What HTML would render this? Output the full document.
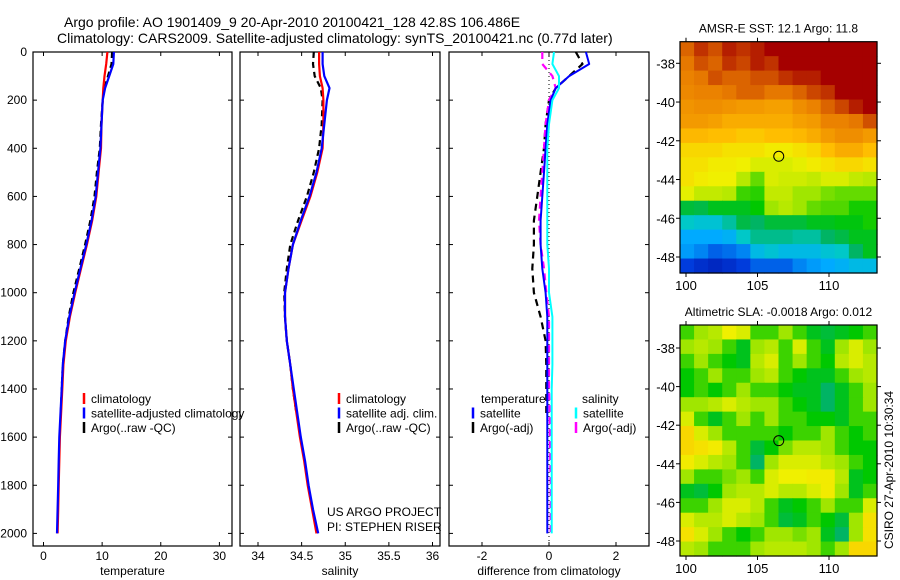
<!DOCTYPE html>
<html><head><meta charset="utf-8"><style>
body{margin:0;background:#fff}
svg{display:block;font-family:"Liberation Sans",sans-serif}
</style></head><body>
<svg id="fig" width="900" height="580" viewBox="0 0 900 580" xmlns="http://www.w3.org/2000/svg">
<rect width="900" height="580" fill="#fff"/>
<text x="64" y="27" font-size="14">Argo profile: AO 1901409_9 20-Apr-2010 20100421_128 42.8S 106.486E</text>
<text x="57" y="43" font-size="14">Climatology: CARS2009. Satellite-adjusted climatology: synTS_20100421.nc (0.77d later)</text>
<g id="plots"></g>
</svg>
<script>
// ---- data ----
const depths = [0,50,100,150,200,300,400,500,600,700,800,900,1000,1100,1200,1300,1400,1500,1600,1700,1800,1900,2000];
const tempClim = [10.9,10.7,10.4,10.2,10.1,9.9,9.8,9.4,9.0,8.3,7.4,6.4,5.4,4.5,3.8,3.4,3.2,3.0,2.8,2.7,2.6,2.5,2.4];
const tempSat  = [12.0,11.9,11.2,10.5,10.1,9.9,9.7,9.3,8.9,8.2,7.3,6.3,5.3,4.4,3.7,3.3,3.1,2.9,2.7,2.6,2.5,2.4,2.3];
const tempArgo = [11.7,11.6,11.0,10.4,10.1,9.8,9.6,9.1,8.7,8.0,7.1,6.1,5.1,4.3,3.7,3.3,3.1,2.95];
const salClim = [34.70,34.70,34.71,34.74,34.75,34.75,34.74,34.68,34.60,34.50,34.40,34.35,34.31,34.31,34.33,34.37,34.40,34.44,34.48,34.53,34.57,34.62,34.67];
const salSat  = [34.74,34.74,34.76,34.82,34.79,34.76,34.73,34.67,34.59,34.49,34.40,34.35,34.31,34.31,34.33,34.37,34.41,34.45,34.49,34.54,34.58,34.63,34.69];
const salArgo = [34.64,34.63,34.65,34.72,34.74,34.73,34.70,34.64,34.56,34.46,34.37,34.33,34.30,34.31,34.33,34.37,34.40,34.44];
const dTempSat  = [1.1,1.2,0.6,0.2,0.05,-0.05,-0.1,-0.15,-0.2,-0.25,-0.25,-0.2,-0.1,-0.05,-0.05,-0.05,-0.05,-0.05,-0.05,-0.05,-0.05,-0.05,-0.05];
const dTempArgo = [0.8,1.0,0.6,0.2,0.0,-0.1,-0.15,-0.25,-0.35,-0.45,-0.45,-0.5,-0.45,-0.25,-0.1,-0.08,-0.08,-0.08];
const dSalSat   = [0.15,0.1,0.3,0.3,0.1,0.0,-0.05,-0.05,-0.05,-0.05,-0.05,0.0,0.0,0.1,0.1,0.1,0.08,0.08,0.08,0.08,0.08,0.08,0.08];
const dSalArgo  = [-0.2,-0.2,0.1,0.2,0.0,-0.1,-0.15,-0.2,-0.25,-0.3,-0.25,-0.15,-0.08,0.0,0.0,0.0,0.0,0.02,0.03,0.04,0.05,0.05,0.05];
const depthTicks = [0,200,400,600,800,1000,1200,1400,1600,1800,2000];
const tempTicks = [0,10,20,30];
const salTicks = [34,34.5,35,35.5,36];
const diffTicks = [-2,0,2];
const lonTicks = [100,105,110];
const latTicks = [-38,-40,-42,-44,-46,-48];
const sstGrid = [
[0.9,0.95,0.92,0.97,0.95,0.97,1,1,1,1,1,1,1,1],
[0.88,0.92,0.9,0.95,0.93,0.97,0.95,1,1,1,1,1,1,1],
[0.87,0.88,0.92,0.9,0.9,0.92,0.92,0.95,0.97,0.97,1,1,1,1],
[0.86,0.87,0.87,0.88,0.9,0.9,0.88,0.88,0.9,0.93,0.95,1,1,1],
[0.84,0.85,0.85,0.84,0.83,0.83,0.82,0.82,0.85,0.87,0.9,0.93,0.97,1],
[0.83,0.83,0.82,0.8,0.8,0.8,0.8,0.8,0.82,0.83,0.87,0.87,0.88,0.92],
[0.78,0.78,0.77,0.77,0.75,0.75,0.77,0.77,0.78,0.8,0.83,0.85,0.85,0.83],
[0.72,0.72,0.72,0.7,0.7,0.7,0.68,0.68,0.7,0.72,0.77,0.8,0.8,0.77],
[0.7,0.7,0.68,0.68,0.67,0.65,0.65,0.65,0.66,0.68,0.7,0.72,0.72,0.7],
[0.7,0.68,0.67,0.67,0.62,0.57,0.65,0.64,0.64,0.63,0.65,0.65,0.63,0.62],
[0.66,0.63,0.63,0.62,0.55,0.54,0.63,0.63,0.6,0.6,0.58,0.57,0.57,0.57],
[0.48,0.47,0.5,0.5,0.5,0.52,0.6,0.62,0.6,0.57,0.56,0.56,0.53,0.53],
[0.4,0.38,0.38,0.42,0.47,0.45,0.48,0.48,0.48,0.5,0.5,0.51,0.51,0.53],
[0.3,0.3,0.3,0.32,0.4,0.43,0.43,0.43,0.42,0.42,0.45,0.47,0.5,0.5],
[0.28,0.25,0.2,0.22,0.25,0.35,0.38,0.35,0.35,0.35,0.38,0.4,0.45,0.5],
[0.15,0.12,0.1,0.12,0.15,0.2,0.2,0.2,0.25,0.28,0.3,0.32,0.35,0.35]];
const slaGrid = [
[0.55,0.6,0.62,0.67,0.65,0.55,0.55,0.6,0.55,0.5,0.48,0.5,0.52,0.55],
[0.6,0.62,0.6,0.55,0.5,0.6,0.62,0.55,0.65,0.55,0.5,0.6,0.65,0.6],
[0.55,0.6,0.55,0.52,0.5,0.62,0.65,0.55,0.6,0.55,0.52,0.62,0.65,0.62],
[0.52,0.55,0.6,0.55,0.55,0.6,0.62,0.55,0.52,0.5,0.5,0.55,0.6,0.62],
[0.52,0.55,0.52,0.55,0.6,0.55,0.55,0.52,0.5,0.5,0.45,0.5,0.55,0.6],
[0.6,0.6,0.62,0.65,0.62,0.6,0.6,0.55,0.52,0.5,0.45,0.5,0.55,0.6],
[0.65,0.55,0.5,0.55,0.6,0.55,0.6,0.55,0.55,0.52,0.52,0.5,0.55,0.55],
[0.72,0.65,0.6,0.55,0.55,0.55,0.55,0.52,0.55,0.55,0.6,0.55,0.52,0.55],
[0.72,0.7,0.68,0.62,0.55,0.48,0.52,0.58,0.62,0.62,0.6,0.55,0.52,0.52],
[0.68,0.65,0.62,0.6,0.55,0.45,0.6,0.65,0.65,0.65,0.62,0.6,0.55,0.52],
[0.6,0.55,0.55,0.58,0.6,0.55,0.65,0.67,0.67,0.68,0.68,0.62,0.5,0.52],
[0.5,0.48,0.52,0.6,0.62,0.62,0.65,0.62,0.62,0.65,0.68,0.6,0.5,0.55],
[0.55,0.55,0.6,0.65,0.65,0.62,0.55,0.5,0.52,0.55,0.6,0.55,0.55,0.65],
[0.65,0.62,0.62,0.65,0.62,0.6,0.55,0.48,0.5,0.55,0.52,0.48,0.6,0.7],
[0.7,0.65,0.6,0.55,0.52,0.55,0.6,0.6,0.58,0.6,0.5,0.45,0.6,0.7],
[0.62,0.6,0.55,0.55,0.55,0.6,0.62,0.62,0.62,0.6,0.55,0.6,0.72,0.72]];
const argoLon = 106.486, argoLat = -42.8;

// ---- drawing ----
const NS = "http://www.w3.org/2000/svg";
const root = document.getElementById('plots');
function mk(tag, attrs, parent){const e=document.createElementNS(NS,tag);for(const k in attrs)e.setAttribute(k,attrs[k]);(parent||root).appendChild(e);return e;}
const y0=52, yPx=(533.4-52)/2000;
const yD = d => y0 + d*yPx;
const TOP=52, BOT=546;

function panel(name, xl, xr, v0, px0, v1, px1, ticks, label, showY){
  const sx = v => px0 + (v-v0)*(px1-px0)/(v1-v0);
  const g = mk('g',{});
  
  
  const box = mk('rect',{x:xl,y:TOP,width:xr-xl,height:BOT-TOP,fill:'none',stroke:'#000','stroke-width':1.2},g);
  
  
  ticks.forEach(t=>{
    const x=sx(t);
    mk('line',{x1:x,y1:TOP,x2:x,y2:TOP+4,stroke:'#000'},g);
    mk('line',{x1:x,y1:BOT,x2:x,y2:BOT-4,stroke:'#000'},g);
    const tl = mk('text',{x:x,y:BOT+14,'font-size':12,'text-anchor':'middle'},g);
    tl.textContent = t;
    
    
  });
  depthTicks.forEach(d=>{
    const y=yD(d);
    mk('line',{x1:xl,y1:y,x2:xl+4,y2:y,stroke:'#000'},g);
    mk('line',{x1:xr,y1:y,x2:xr-4,y2:y,stroke:'#000'},g);
    if(showY){
      const tl = mk('text',{x:27,y:y+4,'font-size':12,'text-anchor':'end'},g);
      tl.textContent = d;
      
      
    }
  });
  const xl2 = mk('text',{x:(xl+xr)/2,y:575,'font-size':12,'text-anchor':'middle'},g);
  xl2.textContent = label;
  
  
  return {g, sx};
}
function series(p, vals, color, dash, w, name){
  const pts = vals.map((v,i)=>p.sx(v).toFixed(1)+','+yD(depths[i]).toFixed(1)).join(' ');
  const a = {points:pts,fill:'none',stroke:color,'stroke-width':w,'stroke-linejoin':'round'};
  if(dash) a['stroke-dasharray']=dash;
  const l = mk('polyline',a,p.g);
  
  
}
function legend(g, x, y, items){
  items.forEach((it,i)=>{
    const yy = y + i*14.5;
    mk('line',{x1:x,y1:yy-10,x2:x,y2:yy+1,stroke:it[1],'stroke-width':2.5},g);
    const t = mk('text',{x:x+7,y:yy,'font-size':12},g);
    t.textContent = it[0];
    
    
  });
}

const p1 = panel('temperature-panel',33,232,0,43.5,30,219.4,tempTicks,'temperature',true);
series(p1,tempArgo,'#000','6,4',2.2,'argo-temperature-line');
series(p1,tempClim,'#f00',null,2.2,'climatology-temperature-line');
series(p1,tempSat,'#00f',null,2.2,'satellite-temperature-line');
legend(p1.g,84,403,[['climatology','#f00'],['satellite-adjusted climatology','#00f'],['Argo(..raw -QC)','#000']]);

const p2 = panel('salinity-panel',240,440,34,258,36,432.5,salTicks,'salinity',false);
series(p2,salArgo,'#000','6,4',2.2,'argo-salinity-line');
series(p2,salClim,'#f00',null,2.2,'climatology-salinity-line');
series(p2,salSat,'#00f',null,2.2,'satellite-salinity-line');
legend(p2.g,339,403,[['climatology','#f00'],['satellite adj. clim.','#00f'],['Argo(..raw -QC)','#000']]);
const c1=mk('text',{x:327,y:516,'font-size':12},p2.g); c1.textContent='US ARGO PROJECT';


const c2=mk('text',{x:327,y:531,'font-size':12},p2.g); c2.textContent='PI: STEPHEN RISER';



const p3 = panel('difference-panel',449,649,-2,482,2,616,diffTicks,'difference from climatology',false);
mk('line',{x1:p3.sx(0),y1:TOP,x2:p3.sx(0),y2:BOT,stroke:'#000','stroke-dasharray':'1,3'},p3.g);
series(p3,dTempArgo,'#000','7,5',2.2,'argo-temperature-diff-line');
series(p3,dSalArgo,'#f0f','7,5',2.2,'argo-salinity-diff-line');
series(p3,dTempSat,'#00f',null,2,'satellite-temperature-diff-line');
series(p3,dSalSat,'#0ff',null,2,'satellite-salinity-diff-line');
const lt=mk('text',{x:481,y:403,'font-size':12},p3.g); lt.textContent='temperature';


const ls=mk('text',{x:582,y:403,'font-size':12},p3.g); ls.textContent='salinity';


legend(p3.g,473,417.5,[['satellite','#00f'],['Argo(-adj)','#000']]);
legend(p3.g,576,417.5,[['satellite','#0ff'],['Argo(-adj)','#f0f']]);

// colormap
const stops=[[0,[0,0,140]],[0.15,[0,60,220]],[0.3,[0,170,255]],[0.4,[0,200,200]],[0.45,[0,180,100]],[0.52,[0,200,0]],[0.6,[160,230,0]],[0.67,[240,240,0]],[0.77,[255,190,0]],[0.87,[235,130,0]],[1,[165,0,0]]];
function cmap(v){
  for(let i=1;i<stops.length;i++){ if(v<=stops[i][0]){const a=stops[i-1],b=stops[i];const t=(v-a[0])/(b[0]-a[0]);return 'rgb('+a[1].map((c,k)=>Math.round(c+(b[1][k]-c)*t)).join(',')+')';}}
  return 'rgb(165,0,0)';
}
function mapPanel(name, title, grid, top, bot, latY38, latY48){
  const xl=680, xr=877;
  const g = mk('g',{});
  
  
  const sx = lon => 686 + (lon-100)*14.3;
  const sy = lat => latY38 + (lat+38)*(latY48-latY38)/(-10);
  const rows=grid.length, cols=grid[0].length;
  const cw=(xr-xl)/cols, ch=(bot-top)/rows;
  grid.forEach((row,r)=>row.forEach((v,c)=>{
    const cell = mk('rect',{x:(xl+c*cw).toFixed(2),y:(top+r*ch).toFixed(2),width:(cw+0.6).toFixed(2),height:(ch+0.6).toFixed(2),fill:cmap(v)},g);
    
    
  }));
  const fr = mk('rect',{x:xl,y:top,width:xr-xl,height:bot-top,fill:'none',stroke:'#000','stroke-width':1.2},g);
  
  
  lonTicks.forEach(t=>{
    const x=sx(t);
    mk('line',{x1:x,y1:top,x2:x,y2:top-4,stroke:'#000'},g);
    mk('line',{x1:x,y1:bot,x2:x,y2:bot+4,stroke:'#000'},g);
    const tl=mk('text',{x:x,y:bot+17,'font-size':13,'text-anchor':'middle'},g); tl.textContent=t;
    
    
  });
  latTicks.forEach(t=>{
    const y=sy(t);
    mk('line',{x1:xl,y1:y,x2:xl-4,y2:y,stroke:'#000'},g);
    mk('line',{x1:xr,y1:y,x2:xr+4,y2:y,stroke:'#000'},g);
    const tl=mk('text',{x:xl-5,y:y+5,'font-size':13,'text-anchor':'end'},g); tl.textContent=t;
    
    
  });
  const tt=mk('text',{x:(xl+xr)/2,y:top-9,'font-size':12,'text-anchor':'middle'},g); tt.textContent=title;
  
  
  const m=mk('circle',{cx:sx(argoLon),cy:sy(argoLat),r:5,fill:'none',stroke:'#000','stroke-width':1},g);
  
  
}
mapPanel('sst-map','AMSR-E SST: 12.1 Argo: 11.8',sstGrid,41.7,273,63.3,257);
mapPanel('sla-map','Altimetric SLA: -0.0018 Argo: 0.012',slaGrid,325,556,348,541);
const cs=mk('text',{x:0,y:0,'font-size':12,'text-anchor':'middle',transform:'translate(893,470) rotate(-90)'});
cs.textContent='CSIRO 27-Apr-2010 10:30:34';


</script>
</body></html>
